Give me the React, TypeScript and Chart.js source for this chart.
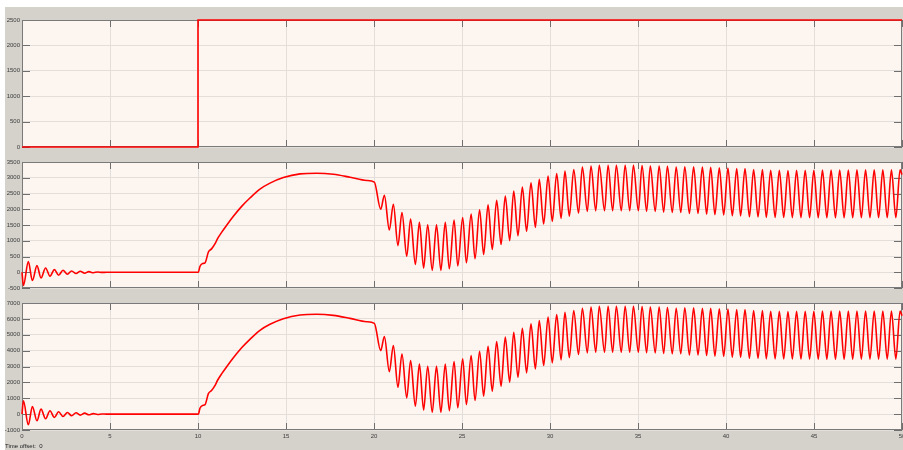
import { useEffect, useRef } from "react";
import { Chart, registerables } from "chart.js";

Chart.register(...registerables);

// ---- Channel 1: reference step ----
const ch1Time = [0, 10, 10, 50];
const ch1Value = [0, 0, 2500, 2500];

// ---- Channels 2 and 3 share the same sample instants ----
const ch23Time = [
  // start-up ringing
  0, 0.08, 0.36, 0.59, 0.85, 1.08, 1.34, 1.59, 1.84, 2.08, 2.33, 2.58, 2.82, 3.07, 3.31, 3.56, 3.8, 4.05, 4.3, 4.55, 4.8, 10.02,
  // rise after the step
  10.11, 10.26, 10.4, 10.59, 10.78, 10.97, 11.12, 11.35, 11.63, 12.01, 12.48, 12.95, 13.52, 14.09, 14.85, 15.8, 16.74, 17.69, 18.64, 19.58, 20.02,
  // oscillation extrema
  20.38, 20.59, 20.87, 21.1, 21.36, 21.59, 21.86, 22.08, 22.35, 22.58,
  22.82, 23.05, 23.31, 23.55, 23.8, 24.05, 24.28, 24.55, 24.76, 25.04,
  25.25, 25.52, 25.74, 26.0, 26.23, 26.48, 26.72, 26.97, 27.22, 27.46,
  27.71, 27.94, 28.18, 28.43, 28.67, 28.92, 29.17, 29.39, 29.64, 29.89,
  30.13, 30.38, 30.63, 30.85, 31.1, 31.35, 31.62, 31.84, 32.12, 32.33,
  32.6, 32.8, 33.1, 33.3, 33.56, 33.77, 34.05, 34.27, 34.53, 34.74,
  35.02, 35.23, 35.49, 35.7, 35.98, 36.2, 36.46, 36.67, 36.95, 37.17,
  37.43, 37.66, 37.92, 38.16, 38.41, 38.66, 38.9, 39.13, 39.37, 39.62,
  39.87, 40.11, 40.36, 40.61, 40.83, 41.08, 41.33, 41.57, 41.82, 42.07,
  42.29, 42.54, 42.79, 43.03, 43.28, 43.52, 43.77, 44.01, 44.26, 44.5,
  44.75, 44.99, 45.24, 45.48, 45.73, 45.97, 46.22, 46.46, 46.71, 46.95,
  47.2, 47.44, 47.69, 47.93, 48.18, 48.42, 48.67, 48.91, 49.16, 49.4,
  49.65, 49.89, 50.0,
];

const ch2Value = [
  0, -420, 336, -263, 210, -179, 137, -126, 84, -95, 63, -63, 42, -42, 30, -30, 20, -15, 10, -5, 0, 0,
  183, 277, 298, 643, 750, 907, 1075, 1273, 1494, 1777, 2092, 2356, 2640, 2829, 3006, 3122, 3143, 3112, 3017, 2912, 2860,
  2000, 2443, 1340, 2160, 846, 1897, 510, 1687, 248, 1582,
  132, 1508, 59, 1508, 59, 1582, 111, 1655, 200, 1740,
  300, 1845, 428, 1981, 564, 2139, 722, 2286, 879, 2423,
  1005, 2580, 1160, 2706, 1300, 2843, 1425, 2948, 1530, 3053,
  1615, 3137, 1710, 3210, 1780, 3263, 1880, 3336, 1930, 3368,
  1950, 3399, 1950, 3399, 1950, 3399, 1950, 3399, 1950, 3399,
  1950, 3390, 1935, 3368, 1930, 3368, 1910, 3360, 1898, 3336,
  1898, 3350, 1866, 3350, 1866, 3336, 1845, 3330, 1824, 3315,
  1820, 3310, 1793, 3294, 1790, 3290, 1761, 3263, 1758, 3260,
  1740, 3240, 1740, 3235, 1740, 3231, 1735, 3235, 1735, 3240,
  1735, 3240, 1730, 3245, 1730, 3245, 1730, 3245, 1730, 3245,
  1730, 3250, 1730, 3250, 1730, 3250, 1730, 3250, 1730, 3250,
  1730, 3250, 3100,
];

const ch3Value = [
  0, 840, -672, 483, -420, 315, -294, 210, -210, 147, -147, 105, -105, 84, -63, 63, -42, 30, -20, 10, 0, 0,
  370, 550, 600, 1290, 1500, 1810, 2150, 2550, 2990, 3550, 4180, 4710, 5280, 5660, 6010, 6240, 6290, 6220, 6030, 5820, 5720,
  4000, 4890, 2680, 4320, 1690, 3790, 1020, 3370, 500, 3160,
  260, 3020, 120, 3020, 120, 3160, 220, 3310, 400, 3480,
  600, 3690, 860, 3960, 1130, 4280, 1440, 4570, 1760, 4850,
  2010, 5160, 2320, 5410, 2600, 5690, 2850, 5900, 3060, 6110,
  3230, 6270, 3420, 6420, 3560, 6530, 3760, 6670, 3860, 6740,
  3900, 6800, 3900, 6800, 3900, 6800, 3900, 6800, 3900, 6800,
  3900, 6780, 3870, 6740, 3860, 6740, 3820, 6720, 3800, 6670,
  3800, 6700, 3730, 6700, 3730, 6670, 3690, 6660, 3650, 6630,
  3640, 6620, 3590, 6590, 3580, 6580, 3520, 6530, 3520, 6520,
  3480, 6480, 3480, 6470, 3480, 6460, 3470, 6470, 3470, 6480,
  3470, 6480, 3460, 6490, 3460, 6490, 3460, 6490, 3460, 6490,
  3460, 6500, 3460, 6500, 3460, 6500, 3460, 6500, 3460, 6500,
  3460, 6500, 6200,
];

// ---- Axis ranges ----
const timeMin = 0;
const timeMax = 50;
const timeStep = 5;
const ch1Range = { min: 0, max: 2500, step: 500 };
const ch2Range = { min: -500, max: 3500, step: 500 };
const ch3Range = { min: -1000, max: 7000, step: 1000 };

const WIDTH = 903;
const FRAME_GRAY = "#d5d2cc";
const PLOT_BG = "#fdf6f0";
const GRID = "#e3ded9";
const TICK_MARK = "#6f6f6f";
const BORDER = "#7a7a7a";
const LABEL = "#3c3c3c";
const TRACE = "#ff0000";
const FONT = "'Liberation Sans', Arial, sans-serif";

type Panel = {
  top: number;
  height: number;
  padTop: number;
  padBottom: number;
  range: { min: number; max: number; step: number };
  time: number[];
  values: number[];
  showTime: boolean;
  smooth: boolean;
};

const panels: Panel[] = [
  { top: 0, height: 155, padTop: 20, padBottom: 8, range: ch1Range, time: ch1Time, values: ch1Value, showTime: false, smooth: false },
  { top: 155, height: 141, padTop: 7, padBottom: 8, range: ch2Range, time: ch23Time, values: ch2Value, showTime: false, smooth: true },
  { top: 296, height: 154, padTop: 7, padBottom: 0, range: ch3Range, time: ch23Time, values: ch3Value, showTime: true, smooth: true },
];

// Plain integer tick text, no thousands separator
const plainNumber = (v: any) => String(v);

// Plot background, frame and the inward tick marks of a scope axes
const scopeFrame = {
  id: "scopeFrame",
  beforeDraw(chart: any) {
    const { ctx, chartArea: a } = chart;
    ctx.save();
    ctx.fillStyle = PLOT_BG;
    ctx.fillRect(a.left, a.top, a.right - a.left, a.bottom - a.top);
    ctx.restore();
  },
  beforeDatasetsDraw(chart: any) {
    const { ctx, chartArea: a, scales } = chart;
    ctx.save();
    ctx.strokeStyle = TICK_MARK;
    ctx.lineWidth = 1;
    ctx.beginPath();
    for (const t of scales.x.ticks) {
      const px = Math.round(scales.x.getPixelForValue(t.value)) + 0.5;
      ctx.moveTo(px, a.bottom);
      ctx.lineTo(px, a.bottom - 7);
      ctx.moveTo(px, a.top);
      ctx.lineTo(px, a.top + 7);
    }
    for (const t of scales.y.ticks) {
      const py = Math.round(scales.y.getPixelForValue(t.value)) + 0.5;
      ctx.moveTo(a.left, py);
      ctx.lineTo(a.left + 8, py);
      ctx.moveTo(a.right, py);
      ctx.lineTo(a.right - 8, py);
    }
    ctx.stroke();
    ctx.strokeStyle = BORDER;
    ctx.strokeRect(a.left + 0.5, a.top + 0.5, a.right - a.left - 1, a.bottom - a.top - 1);
    ctx.restore();
  },
};

function makeChart(canvas: HTMLCanvasElement, p: Panel) {
  const points = p.time.map((t, i) => ({ x: t, y: p.values[i] }));
  return new Chart(canvas, {
    type: "line",
    data: {
      datasets: [
        {
          data: points,
          borderColor: TRACE,
          borderWidth: 1.6,
          pointRadius: 0,
          tension: 0,
          cubicInterpolationMode: p.smooth ? "monotone" : "default",
          clip: 4,
        } as any,
      ],
    },
    options: {
      responsive: false,
      devicePixelRatio: 1,
      animation: false,
      events: [],
      layout: { padding: { top: p.padTop, bottom: p.padBottom, left: 0, right: 1 } },
      plugins: { legend: { display: false }, tooltip: { enabled: false } },
      scales: {
        x: {
          type: "linear",
          min: timeMin,
          max: timeMax,
          border: { display: false },
          grid: { color: GRID, lineWidth: 1, drawTicks: false },
          ticks: {
            display: p.showTime,
            stepSize: timeStep,
            padding: 3,
            color: LABEL,
            font: { size: 6, family: FONT },
            maxRotation: 0,
            autoSkip: false,
            callback: plainNumber,
          },
          afterFit: (s: any) => {
            s.height = p.showTime ? 20 : 0;
            s.paddingLeft = 0;
            s.paddingRight = 0;
          },
        },
        y: {
          type: "linear",
          min: p.range.min,
          max: p.range.max,
          border: { display: false },
          grid: { color: GRID, lineWidth: 1, drawTicks: false },
          ticks: {
            stepSize: p.range.step,
            padding: 2,
            color: LABEL,
            font: { size: 6, family: FONT },
            autoSkip: false,
            callback: plainNumber,
          },
          afterFit: (s: any) => {
            s.width = 22;
            s.paddingTop = 0;
            s.paddingBottom = 0;
          },
        },
      },
    },
    plugins: [scopeFrame],
  } as any);
}

export default function App() {
  const refs = useRef<(HTMLCanvasElement | null)[]>([]);

  useEffect(() => {
    document.body.style.margin = "0";
    const charts = panels.map((p, i) => makeChart(refs.current[i] as HTMLCanvasElement, p));
    return () => charts.forEach((c) => c.destroy());
  }, []);

  return (
    <div style={{ position: "absolute", left: 0, top: 0, width: WIDTH, height: 450, background: "#ffffff", overflow: "hidden" }}>
      <div style={{ position: "absolute", left: 5, top: 7, right: 0, bottom: 0, background: FRAME_GRAY }} />
      {panels.map((p, i) => (
        <canvas
          key={i}
          ref={(el) => {
            refs.current[i] = el;
          }}
          width={WIDTH}
          height={p.height}
          style={{ position: "absolute", left: 0, top: p.top, width: WIDTH, height: p.height }}
        />
      ))}
      <div
        style={{
          position: "absolute",
          left: 5,
          top: 443,
          fontFamily: FONT,
          fontSize: 6,
          lineHeight: "7px",
          color: "#222",
          whiteSpace: "pre",
        }}
      >
        {"Time offset:  0"}
      </div>
    </div>
  );
}
